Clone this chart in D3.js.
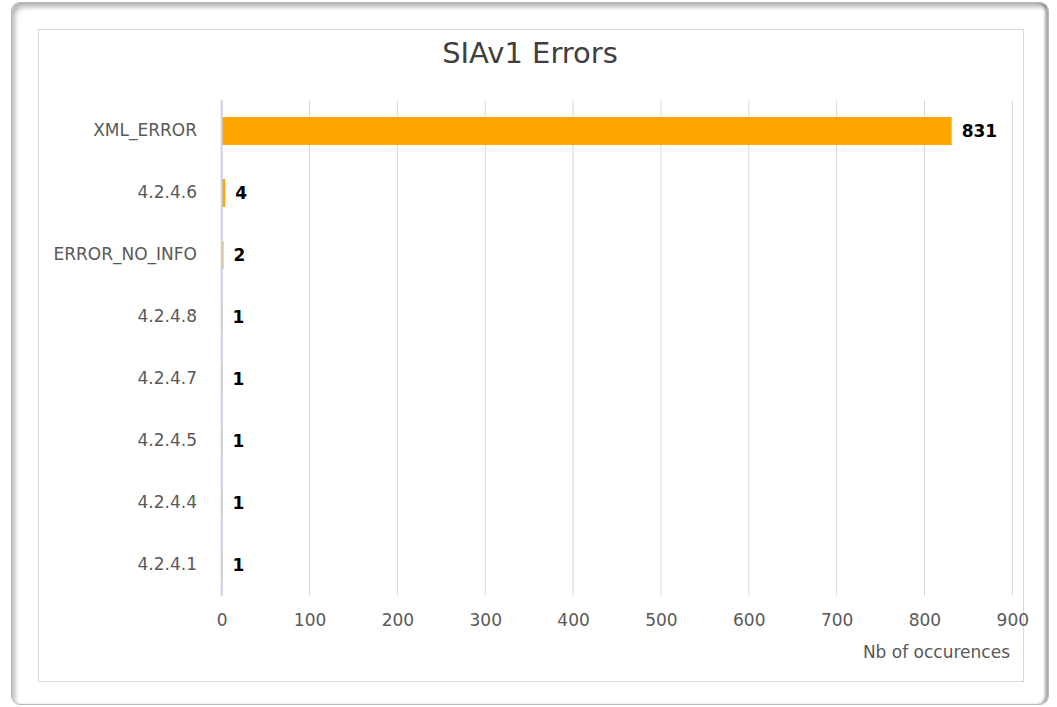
<!DOCTYPE html>
<html><head><meta charset="utf-8">
<script src="https://cdn.jsdelivr.net/npm/d3@7"></script>
<style>
html,body{margin:0;padding:0;background:#fff;width:1057px;height:707px;overflow:hidden;}
#card{position:absolute;left:11px;top:2px;width:1036px;height:701px;border:1px solid #b9b9b9;border-radius:9px;
 box-shadow:inset 5px 6px 5px -2px rgba(0,0,0,0.28), inset -4px 0 3px -1px rgba(0,0,0,0.35);background:#fff;}
svg{position:absolute;left:0;top:0;}
text{font-family:"DejaVu Sans",sans-serif;}
</style></head>
<body><div id="card"></div><svg id="c" width="1057" height="707"></svg>
<script>
const categories = ["XML_ERROR","4.2.4.6","ERROR_NO_INFO","4.2.4.8","4.2.4.7","4.2.4.5","4.2.4.4","4.2.4.1"];
const values = [831,4,2,1,1,1,1,1];
const xTicks = [0,100,200,300,400,500,600,700,800,900];
const title = "SIAv1 Errors";
const xTitle = "Nb of occurences";

const svg = d3.select("#c");
// inner chart border
svg.append("rect").attr("x",38.5).attr("y",29.5).attr("width",985).attr("height",652)
  .attr("fill","#fff").attr("stroke","#d9d9d9").attr("stroke-width",1);

const x = d3.scaleLinear().domain([0,900]).range([221.7,1012.3]);
const y = d3.scaleBand().domain(categories).range([100,596]).paddingInner(0.55).paddingOuter(0.275);

// gridlines
svg.append("g").selectAll("line").data(xTicks.filter(d=>d>0)).join("line")
  .attr("x1",d=>x(d)).attr("x2",d=>x(d)).attr("y1",100).attr("y2",596)
  .attr("stroke","#d9d9d9").attr("stroke-width",1);

// bars
const data = categories.map((c,i)=>({c, v:values[i]}));
svg.append("g").selectAll("rect").data(data).join("rect")
  .attr("x",x(0)).attr("y",d=>y(d.c)).attr("width",d=>x(d.v)-x(0)).attr("height",y.bandwidth())
  .attr("fill","#FFA500");

// zero axis line
svg.append("line").attr("x1",x(0)).attr("x2",x(0)).attr("y1",100).attr("y2",596)
  .attr("stroke","#c6d2e8").attr("stroke-width",2);

// x axis tick labels
const xAxis = d3.axisBottom(x).tickValues(xTicks).tickSize(0).tickPadding(0);
const gx = svg.append("g").attr("transform","translate(0,614)").call(xAxis);
gx.select(".domain").remove();
gx.selectAll("text").attr("font-size",17).attr("fill","#595959").attr("font-family","DejaVu Sans")
  .attr("dy","0.71em").attr("y",0);

// y axis labels
const yAxis = d3.axisLeft(y).tickSize(0).tickPadding(0);
const gy = svg.append("g").attr("transform","translate(197,0)").call(yAxis);
gy.select(".domain").remove();
gy.selectAll("text").attr("font-size",17).attr("fill","#595959").attr("font-family","DejaVu Sans");

// value labels
svg.append("g").selectAll("text").data(data).join("text")
  .attr("x",d=>x(d.v)+10).attr("y",d=>y(d.c)+y.bandwidth()/2).attr("dy","0.35em")
  .attr("font-size",17).attr("font-weight","bold").attr("fill","#000").text(d=>d.v);

// title
svg.append("text").attr("x",530).attr("y",53).attr("dy","0.35em").attr("text-anchor","middle")
  .attr("font-size",29).attr("fill","#404040").text(title);

// x axis title
svg.append("text").attr("x",1010).attr("y",652).attr("dy","0.35em").attr("text-anchor","end")
  .attr("font-size",17).attr("fill","#595959").text(xTitle);
</script></body></html>
